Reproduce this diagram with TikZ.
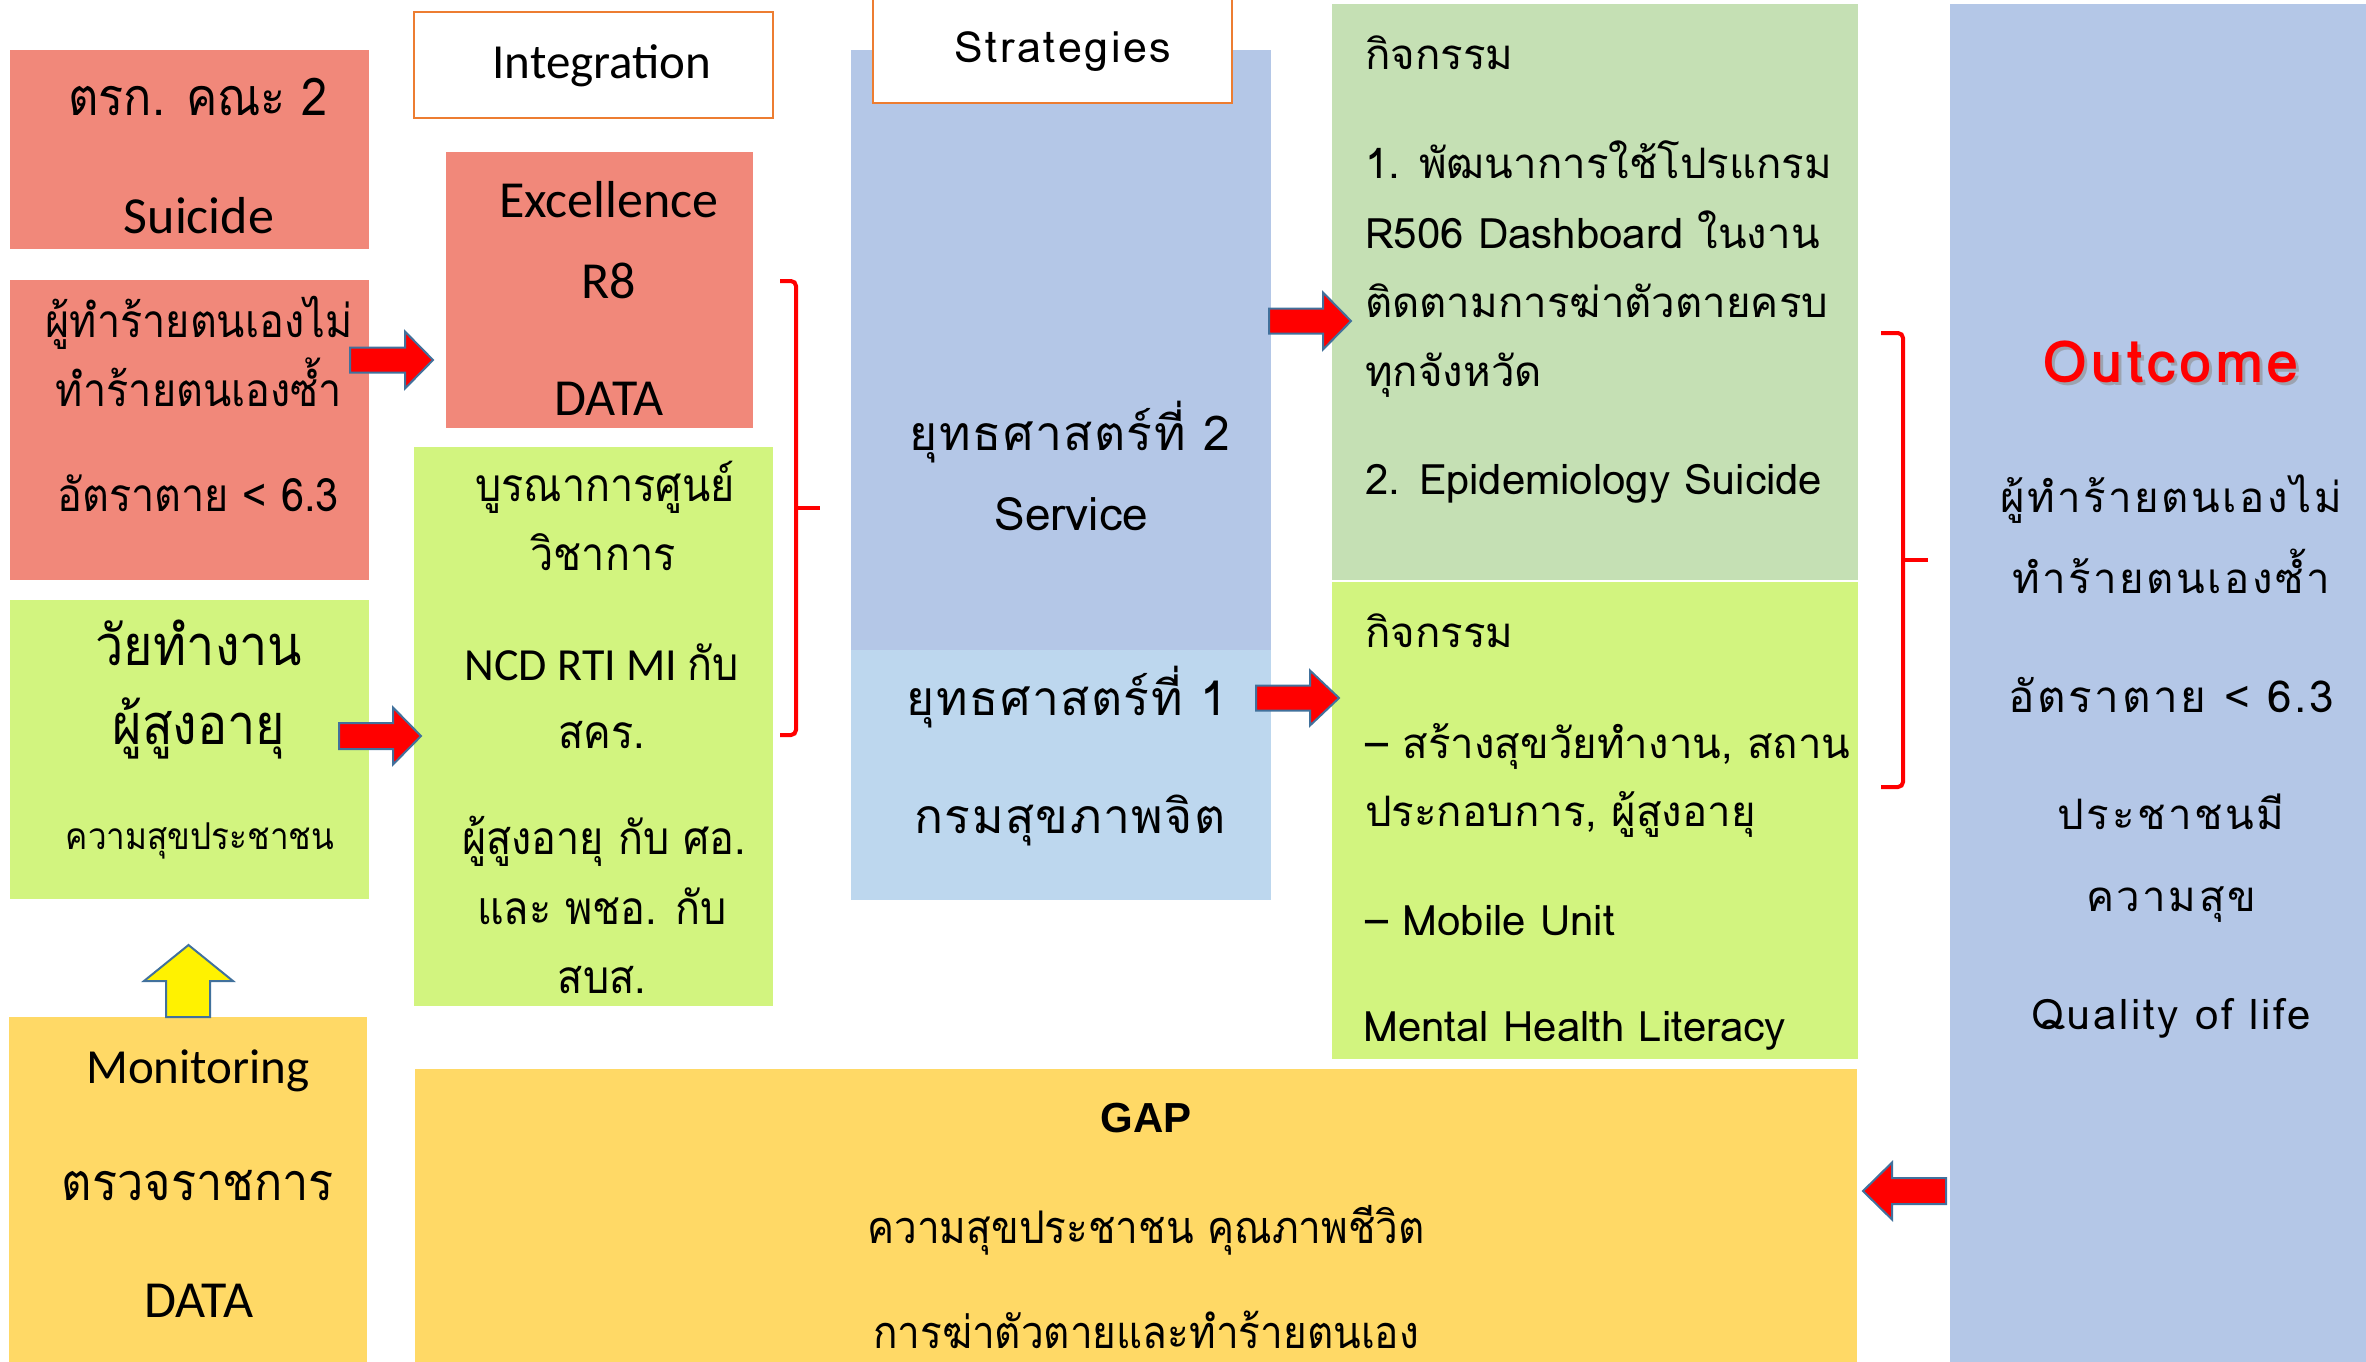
\documentclass[tikz,border=0pt]{standalone}
\usepackage{fontspec}
\setmainfont{Carlito}
\newfontfamily\thaiL[Script=Thai,FakeStretch=0.9]{Loma}
\newfontfamily\thaiW[Script=Thai]{Loma}
\newfontfamily\thaiS[Script=Thai,LetterSpace=3]{Loma}
\newfontfamily\thaiO[Script=Thai,LetterSpace=6]{Loma}
\newfontfamily\gapfont{Liberation Sans}
\usetikzlibrary{calc}
\definecolor{salmon}{HTML}{F1887A}
\definecolor{lgreen}{HTML}{D2F47F}
\definecolor{sage}{HTML}{C5E0B4}
\definecolor{sblue}{HTML}{B4C7E7}
\definecolor{lblue}{HTML}{BDD7EE}
\definecolor{gold}{HTML}{FFD966}
\definecolor{oborder}{HTML}{ED7D31}
\definecolor{aborder}{HTML}{41719C}
\newcommand\myfs[1]{\fontsize{#1}{#1}\selectfont}
% horizontal block arrow: tail x, tip x, centre y, shaft half, head base x, head half
\newcommand\harrow[6]{%
  \draw[blockarrow] ({#1},{#3-#4}) -- ({#5},{#3-#4}) -- ({#5},{#3-#6}) -- ({#2},{#3})
    -- ({#5},{#3+#6}) -- ({#5},{#3+#4}) -- ({#1},{#3+#4}) -- cycle;}
\begin{document}
\begin{tikzpicture}[x=1pt,y=-1pt,
  box/.style={draw=none,inner sep=0pt,outer sep=0pt,anchor=north west},
  obox/.style={draw=oborder,line width=2.5pt,fill=white,inner sep=0pt,outer sep=0pt,anchor=north west},
  blockarrow/.style={draw=aborder,line width=2pt,fill=red},
  brace/.style={draw=red,line width=4pt,rounded corners=5pt},
  tl/.style={anchor=base,inner sep=0pt,font=\thaiL\myfs{46}},
  tw/.style={anchor=base west,inner sep=0pt,font=\thaiW\myfs{42}},
  ts/.style={anchor=base,inner sep=0pt,font=\thaiS\myfs{48}},
  tc/.style={anchor=base,inner sep=0pt,font=\thaiO\myfs{42}},
  lat/.style={anchor=base,inner sep=0pt,font=\myfs{52}}]
\useasboundingbox (0,0) rectangle (2366,1361);

% ---------- left column ----------
\node[box,fill=salmon,minimum width=359pt,minimum height=199pt] (b1) at (10,50) {};
\node[tl,font=\thaiL\myfs{52}] (t1a) at (198,115) {ตรก. คณะ 2};
\node[lat] (t1b) at (199,233) {Suicide};

\node[box,fill=salmon,minimum width=359pt,minimum height=300pt] (b2) at (10,280) {};
\node[tl] (t2a) at (199,337) {ผู้ทำร้ายตนเองไม่};
\node[tl] (t2b) at (199,406) {ทำร้ายตนเองซ้ำ};
\node[tl] (t2c) at (198,511) {อัตราตาย < 6.3};

\node[box,fill=lgreen,minimum width=359pt,minimum height=299pt] (b3) at (10,600) {};
\node[tl,font=\thaiL\myfs{56}] (t3a) at (199,665) {วัยทำงาน};
\node[tl,font=\thaiL\myfs{56}] (t3b) at (199,744) {ผู้สูงอายุ};
\node[tl,font=\thaiL\myfs{37}] (t3c) at (200,849) {ความสุขประชาชน};

\node[box,fill=gold,minimum width=358pt,minimum height=350pt] (b4) at (9,1017) {};
\node[lat,font=\myfs{49}] (t4a) at (198,1083) {Monitoring};
\node[tl,font=\thaiL\myfs{52}] (t4b) at (198,1200) {ตรวจราชการ};
\node[lat] (t4c) at (199,1317) {DATA};

% ---------- integration column ----------
\node[obox,minimum width=359pt,minimum height=106pt] (b5) at (414,12) {};
\node[lat,font=\myfs{49}] (t5) at (602,78) {Integration};

\node[box,fill=salmon,minimum width=307pt,minimum height=276pt] (b6) at (446,152) {};
\node[lat] (t6a) at (609,217) {Excellence};
\node[lat] (t6b) at (609,298) {R8};
\node[lat] (t6c) at (609,415) {DATA};

\node[box,fill=lgreen,minimum width=359pt,minimum height=559pt] (b7) at (414,447) {};
\node[tl] (t7a) at (605,501) {บูรณาการศูนย์};
\node[tl] (t7b) at (603,570) {วิชาการ};
\node[tl] (t7c) at (602,680) {\rmfamily NCD RTI MI \thaiL กับ};
\node[tl] (t7d) at (602,748) {สคร.};
\node[tl] (t7e) at (604,854) {ผู้สูงอายุ กับ ศอ.};
\node[tl] (t7f) at (602,924) {และ พชอ. กับ};
\node[tl] (t7g) at (602,993) {สบส.};

% ---------- strategies column ----------
\node[box,fill=sblue,minimum width=420pt,minimum height=600pt] (b8) at (851,50) {};
\node[box,fill=lblue,minimum width=420pt,minimum height=250pt] (b9) at (851,650) {};
\node[obox,minimum width=359pt,minimum height=106pt] (b10) at (873,-3) {};
\node[tc,font=\thaiO\myfs{43}] (t10) at (1063,62) {Strategies};
\node[ts] (t8a) at (1070,450) {ยุทธศาสตร์ที่ 2};
\node[ts,font=\thaiW\myfs{46}] (t8b) at (1071,530) {Service};
\node[ts] (t9a) at (1067,715) {ยุทธศาสตร์ที่ 1};
\node[ts] (t9b) at (1070,833) {กรมสุขภาพจิต};

% ---------- activities column ----------
\node[box,fill=sage,minimum width=526pt,minimum height=576pt] (b11) at (1332,4) {};
\node[tw] (t11a) at (1365,69) {กิจกรรม};
\node[tw] (t11b) at (1365,178) {1. พัฒนาการใช้โปรแกรม};
\node[tw] (t11c) at (1365,248) {R506 Dashboard ในงาน};
\node[tw] (t11d) at (1365,317) {ติดตามการฆ่าตัวตายครบ};
\node[tw] (t11e) at (1365,386) {ทุกจังหวัด};
\node[tw] (t11f) at (1365,494) {2. Epidemiology Suicide};

\node[box,fill=lgreen,minimum width=526pt,minimum height=477pt] (b12) at (1332,582) {};
\node[tw] (t12a) at (1365,647) {กิจกรรม};
\node[tw] (t12b) at (1365,758) {– สร้างสุขวัยทำงาน, สถาน};
\node[tw] (t12c) at (1365,826) {ประกอบการ, ผู้สูงอายุ};
\node[tw] (t12d) at (1365,935) {– Mobile Unit};
\node[tw] (t12e) at (1363,1041) {Mental Health Literacy};

% ---------- GAP ----------
\node[box,fill=gold,minimum width=1442pt,minimum height=300pt] (b13) at (415,1069) {};
\node[anchor=base,inner sep=0pt,font=\gapfont\bfseries\myfs{42}] (t13a) at (1146,1132) {GAP};
\node[tl,font=\thaiL\myfs{45}] (t13b) at (1146,1243) {ความสุขประชาชน คุณภาพชีวิต};
\node[tl,font=\thaiL\myfs{45}] (t13c) at (1146,1348) {การฆ่าตัวตายและทำร้ายตนเอง};

% ---------- outcome ----------
\node[box,fill=sblue,minimum width=416pt,minimum height=1360pt] (b14) at (1950,4) {};
\node[anchor=base,inner sep=0pt,font=\thaiO\bfseries\myfs{58},text=black!45,opacity=0.6] (t14s) at (2174,385) {Outcome};
\node[anchor=base,inner sep=0pt,font=\thaiO\bfseries\myfs{58},text=red] (t14a) at (2171,382) {Outcome};
\node[tc] (t14b) at (2171,512) {ผู้ทำร้ายตนเองไม่};
\node[tc] (t14c) at (2171,593) {ทำร้ายตนเองซ้ำ};
\node[tc,font=\thaiO\myfs{44}] (t14d) at (2171,712) {อัตราตาย < 6.3};
\node[tc] (t14e) at (2171,829) {ประชาชนมี};
\node[tc] (t14f) at (2171,911) {ความสุข};
\node[tc] (t14g) at (2171,1029) {Quality of life};

% ---------- arrows ----------
\harrow{350}{433}{360}{12.5}{405}{28.5}
\harrow{339}{421}{736}{13}{393}{28.5}
\harrow{1269}{1351}{321}{12.5}{1323}{28.5}
\harrow{1256}{1339}{698}{12.5}{1310}{27.5}
\harrow{1946}{1863}{1191}{13}{1892}{28.5}
\draw[blockarrow,fill=yellow] (166,1017) -- (166,981) -- (144,981) -- (188.5,945) -- (233,981) -- (210,981) -- (210,1017) -- cycle;

% ---------- braces ----------
\draw[brace] (780,281) -- (796,281) -- (796,735) -- (780,735);
\draw[brace] (796,508) -- (820,508);
\draw[brace] (1881,333) -- (1903,333) -- (1903,787) -- (1881,787);
\draw[brace] (1903,560) -- (1928,560);
\end{tikzpicture}
\end{document}
